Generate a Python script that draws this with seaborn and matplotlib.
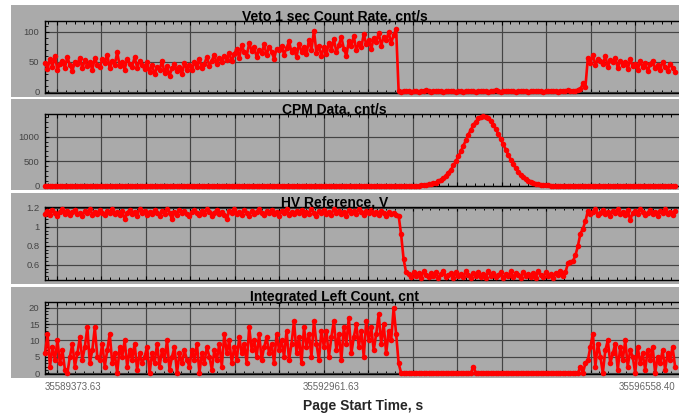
import numpy as np
import seaborn as sns
import matplotlib.pyplot as plt
import matplotlib.transforms as mtransforms
from matplotlib.patches import Rectangle
from matplotlib.ticker import FixedLocator, AutoMinorLocator, NullFormatter, FuncFormatter

# --- data ---
T_START = 35589373.63
T_END = 35596558.40
tick_times = [35589373.63, 35592961.63, 35596558.40]
tick_labels = ["35589373.63", "35592961.63", "35596558.40"]

titles = ["Veto 1 sec Count Rate, cnt/s", "CPM Data, cnt/s",
          "HV Reference, V", "Integrated Left Count, cnt"]

veto_rate = (
    [48, 38, 55, 42, 60, 36, 47, 52, 40, 58, 44, 35, 50, 46, 57, 39, 53, 43, 49, 37, 56, 45]
    + [41, 54, 48, 62, 39, 51, 45, 66, 43, 50, 37, 55, 47, 42, 58, 40, 52, 44]
    + [38, 49, 33, 45, 29, 41, 36, 52, 31, 43, 27, 39, 46, 34, 42, 30, 48, 37]
    + [44, 36, 50, 41, 55, 39, 47, 58, 43, 52, 62, 46, 56, 49, 60, 53, 64, 51]
    + [63, 72, 56, 78, 66, 60, 81, 68, 74, 58, 70, 64, 79, 61, 75, 67, 55, 72]
    + [69, 77, 62, 73, 84, 66, 71, 58, 80, 67, 74, 63, 86, 70, 102, 65, 76, 60]
    + [74, 63, 82, 70, 88, 66, 78, 91, 72, 60, 85, 76, 93, 69, 81, 74, 96, 79, 87, 71,
       90, 83, 98, 77, 92, 86, 99, 81, 95, 104]
    + [1, 0, 2, 1, 1, 0, 1, 2, 0, 1, 1, 3, 1, 0, 1, 1, 2, 1, 0, 1,
       1, 1, 2, 0, 1, 1, 0, 2, 1, 1, 1, 0, 1, 2, 1, 1, 0, 1, 1, 3,
       1, 0, 1, 1, 2, 1, 1, 0, 1, 1, 2, 1, 0, 1, 1, 1, 2, 1, 0, 1,
       1, 2, 1, 1, 0, 1, 2, 1, 3, 1, 2, 1, 3]
    + [4, 14, 8]
    + [57, 48, 62, 44, 55, 51, 46, 59, 42, 53, 49, 56, 40, 52, 45, 50, 38, 54, 43, 47,
       36, 51, 41, 48, 34, 46, 52, 39, 44, 37, 50, 42, 35, 47, 40, 33]
)

cpm_rate = (
    [0] * 151
    + [6, 9, 14, 22, 30, 43, 61, 88, 114, 158, 200, 265, 325, 412, 495, 602, 700, 820,
       925, 1045, 1140, 1240, 1310, 1375, 1405]
    + [1425]
    + [1410, 1378, 1322, 1250, 1160, 1060, 955, 845, 735, 630, 530, 440, 358, 287, 225,
       172, 130, 96, 70, 50, 35, 24, 16, 10, 6, 3]
    + [0] * 51
)

hv_ref = (
    [1.14, 1.17, 1.13, 1.18, 1.15, 1.12, 1.16, 1.19, 1.14, 1.17,
     1.13, 1.16, 1.18, 1.14, 1.15, 1.12, 1.17, 1.15, 1.19, 1.13,
     1.16, 1.14, 1.18, 1.15, 1.13, 1.17, 1.15, 1.19, 1.14, 1.16,
     1.13, 1.17, 1.08, 1.15, 1.18, 1.14, 1.16, 1.12, 1.19, 1.15,
     1.17, 1.13, 1.16, 1.14, 1.18, 1.15, 1.12, 1.17, 1.14, 1.19,
     1.15, 1.08, 1.16, 1.13, 1.18, 1.15, 1.17, 1.14, 1.12, 1.16,
     1.18, 1.15, 1.13, 1.17, 1.14, 1.19, 1.16, 1.12, 1.15, 1.18,
     1.14, 1.16, 1.13, 1.08, 1.17, 1.15, 1.19, 1.14, 1.16, 1.13,
     1.18, 1.15, 1.12, 1.17, 1.14, 1.16, 1.19, 1.15, 1.13, 1.17,
     1.15, 1.18, 1.14, 1.16, 1.12, 1.17, 1.15, 1.19, 1.13, 1.16,
     1.14, 1.17, 1.15, 1.18, 1.13, 1.16, 1.14, 1.19, 1.15, 1.12,
     1.17, 1.15, 1.18, 1.14, 1.16, 1.13, 1.19, 1.15, 1.17, 1.14,
     1.16, 1.12, 1.18, 1.15, 1.17, 1.14, 1.19, 1.16, 1.13, 1.17,
     1.15, 1.18, 1.14, 1.16, 1.13, 1.17, 1.15, 1.12, 1.16, 1.14,
     1.15, 1.13]
    + [1.12, 0.92, 0.66, 0.52]
    + [0.50, 0.47, 0.52, 0.48, 0.51, 0.46, 0.53, 0.49, 0.47, 0.51,
       0.48, 0.52, 0.46, 0.50, 0.54, 0.47, 0.49, 0.51, 0.46, 0.52,
       0.48, 0.50, 0.47, 0.53, 0.49, 0.46, 0.51, 0.48, 0.52, 0.47,
       0.50, 0.46, 0.53, 0.48, 0.51, 0.47, 0.49, 0.52, 0.46, 0.50,
       0.48, 0.53, 0.47, 0.51, 0.49, 0.46, 0.52, 0.48, 0.50, 0.47,
       0.51, 0.46, 0.53, 0.49, 0.47, 0.52, 0.48, 0.50, 0.46, 0.51,
       0.49, 0.53, 0.48, 0.52]
    + [0.62, 0.63, 0.64, 0.70, 0.80, 0.93, 0.98, 1.06]
    + [1.17, 1.14, 1.16, 1.19, 1.13, 1.15, 1.18, 1.14, 1.16, 1.12,
       1.17, 1.15, 1.19, 1.14, 1.16, 1.13, 1.18, 1.07, 1.15, 1.17,
       1.14, 1.19, 1.16, 1.13, 1.15, 1.18, 1.14, 1.16, 1.12, 1.17,
       1.15, 1.19, 1.14, 1.16, 1.13, 1.17]
)

left_count = (
    [6, 12, 2, 8, 4, 10, 3, 7, 1, 0, 5, 9, 2, 6, 11, 4, 8, 14, 3, 7, 14, 5]
    + [4, 9, 2, 7, 12, 3, 6, 0, 8, 5, 10, 2, 7, 4, 9, 1, 6, 3]
    + [5, 8, 0, 6, 3, 9, 2, 7, 4, 10, 1, 5, 8, 0, 6, 3, 7, 4]
    + [2, 7, 4, 9, 0, 6, 3, 8, 5, 1, 7, 4, 9, 2, 12, 6, 10, 3]
    + [8, 4, 11, 6, 9, 3, 14, 7, 10, 5, 12, 4, 8, 11, 6, 9, 3, 12]
    + [7, 10, 5, 13, 4, 9, 16, 6, 11, 3, 14, 8, 12, 5, 16, 9, 4, 13]
    + [8, 13, 5, 11, 16, 7, 12, 4, 14, 9, 17, 6, 11, 15, 8, 13, 5, 16, 10, 14,
       7, 12, 18, 9, 15, 6, 13, 10, 20, 12]
    + [3]
    + [0] * 29 + [2] + [0] * 42
    + [2, 0, 3]
    + [4, 8, 12, 2, 9, 5, 0, 7, 10, 3, 6, 9, 1, 8, 4, 10, 2, 7, 5, 0,
       8, 3, 6, 1, 7, 4, 8, 0, 5, 3, 7, 1, 6, 4, 8, 2]
)

series = [veto_rate, cpm_rate, hv_ref, left_count]
for s in series:
    assert len(s) == len(veto_rate), [len(x) for x in series]

# page start times, one per sample
times = np.linspace(T_START, T_END, len(veto_rate))

ylims = [(-2, 118), (-10, 1466), (0.44, 1.21), (-0.3, 21.8)]
yticks = [[0, 50, 100], [0, 500, 1000], [0.6, 0.8, 1, 1.2], [0, 5, 10, 15, 20]]

# --- style ---
sns.set_style("ticks")
plt.rcParams['font.family'] = ['Liberation Sans', 'DejaVu Sans']
GRAY = '#aaaaaa'

W, H = 679, 417
fig = plt.figure(figsize=(W / 100, H / 100), dpi=100)

panel_px = [(5, 97), (99, 190), (193, 284), (287, 378)]
axes_px = [(21, 93), (114, 186), (207, 280), (302, 374)]
left_px = 45

for top, bot in panel_px:
    fig.patches.append(Rectangle((11 / W, 1 - bot / H), 1 - 11 / W, (bot - top) / H,
                                 transform=fig.transFigure, facecolor=GRAY,
                                 edgecolor='none', zorder=-1))

xlim = (T_START, T_END + 45)
sec_per_px = (xlim[1] - xlim[0]) / (W - left_px)
grid_step = 44.46 * sec_per_px
grid_times = np.arange(T_START + 12 * sec_per_px, xlim[1], grid_step)
minor_times = np.arange(T_START + 12 * sec_per_px - grid_step, xlim[1], grid_step / 5)

axes = []
for k, (top, bot) in enumerate(axes_px):
    ax = fig.add_axes([left_px / W, 1 - bot / H, (W - left_px) / W, (bot - top) / H])
    ax.set_facecolor(GRAY)
    axes.append(ax)

    sns.lineplot(x=times, y=series[k], ax=ax, color='#ff0000', marker='o',
                 markersize=4.0, markeredgewidth=0, linewidth=1.9,
                 clip_on=False, zorder=3)

    ax.set_xlim(xlim)
    ax.set_ylim(ylims[k])
    ax.set_xlabel('')
    ax.set_ylabel('')

    ax.xaxis.set_major_locator(FixedLocator(grid_times))
    ax.xaxis.set_minor_locator(FixedLocator(minor_times))
    ax.xaxis.set_major_formatter(NullFormatter())
    ax.set_yticks(yticks[k])
    ax.yaxis.set_minor_locator(AutoMinorLocator(5))
    ax.yaxis.set_major_formatter(FuncFormatter(lambda v, p: f"{v:g}"))

    ax.grid(True, which='major', color='#444444', linewidth=0.85)
    ax.set_axisbelow(True)

    ax.tick_params(axis='x', which='both', direction='in', top=True, bottom=True,
                   labelbottom=False, color='black')
    ax.tick_params(axis='x', which='major', length=3, width=0.8)
    ax.tick_params(axis='x', which='minor', length=2.5, width=0.7)
    ax.tick_params(axis='y', which='both', direction='in', left=True, right=False,
                   labelsize=6.8, labelcolor='#444444', pad=4, color='black')
    ax.tick_params(axis='y', which='major', length=3, width=0.8)
    ax.tick_params(axis='y', which='minor', length=2, width=0.6)

    for side in ['left', 'top', 'bottom']:
        ax.spines[side].set_color('black')
        ax.spines[side].set_linewidth(1.0)
    ax.spines['right'].set_visible(False)

    ax.text(0.457, 1.012, titles[k], transform=ax.transAxes, ha='center',
            va='baseline', fontsize=10, fontweight='bold', color='black', zorder=6)

# time labels under the bottom panel
ax = axes[-1]
trans = mtransforms.blended_transform_factory(ax.transData, ax.transAxes)
for t, lab, ha in zip(tick_times, tick_labels, ['left', 'right', 'right']):
    ax.text(t, -0.11, lab, transform=trans, ha=ha, va='top', fontsize=7,
            color='#666666', clip_on=False)

fig.text(363 / W, 0.016, "Page Start Time, s", ha='center', va='baseline',
         fontsize=10, fontweight='bold')

plt.savefig("out.png", dpi=100)
plt.close()
